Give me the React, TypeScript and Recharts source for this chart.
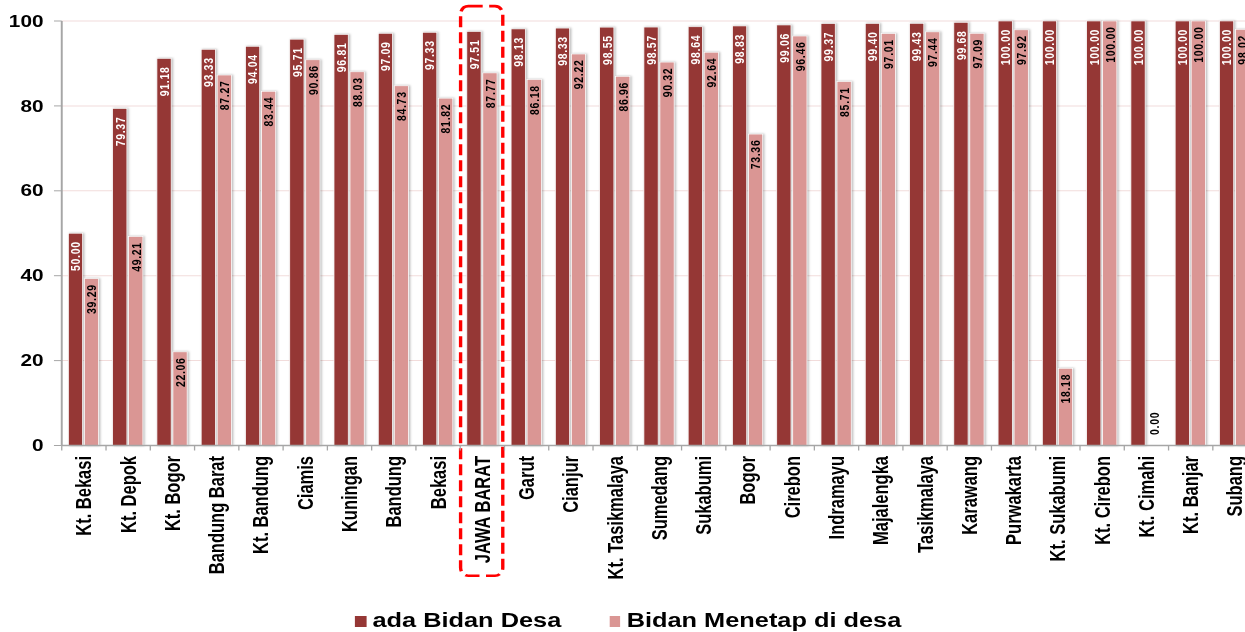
import React from 'react';
import { BarChart, Bar, XAxis, YAxis, CartesianGrid, Legend, LabelList, ReferenceArea } from 'recharts';

// kabupaten / kota, urut seperti di gambar
const kabupaten = [
  'Kt. Bekasi', 'Kt. Depok', 'Kt. Bogor', 'Bandung Barat', 'Kt. Bandung', 'Ciamis', 'Kuningan',
  'Bandung', 'Bekasi', 'JAWA BARAT', 'Garut', 'Cianjur', 'Kt. Tasikmalaya', 'Sumedang', 'Sukabumi',
  'Bogor', 'Cirebon', 'Indramayu', 'Majalengka', 'Tasikmalaya', 'Karawang', 'Purwakarta',
  'Kt. Sukabumi', 'Kt. Cirebon', 'Kt. Cimahi', 'Kt. Banjar', 'Subang',
];
const adaBidanDesa = [
  50.0, 79.37, 91.18, 93.33, 94.04, 95.71, 96.81, 97.09, 97.33, 97.51, 98.13, 98.33, 98.55, 98.57,
  98.64, 98.83, 99.06, 99.37, 99.4, 99.43, 99.68, 100, 100, 100, 100, 100, 100,
];
const bidanMenetap = [
  39.29, 49.21, 22.06, 87.27, 83.44, 90.86, 88.03, 84.73, 81.82, 87.77, 86.18, 92.22, 86.96, 90.32,
  92.64, 73.36, 96.46, 85.71, 97.01, 97.44, 97.09, 97.92, 18.18, 100, 0, 100, 98.02,
];
const yTicks = [0, 20, 40, 60, 80, 100];
const highlight = 'JAWA BARAT';

const data = kabupaten.map((name, i) => ({ name, ada: adaBidanDesa[i], menetap: bidanMenetap[i] }));

const DARK = '#953735';
const LIGHT = '#DA9694';
const AXIS = '#A6A6A6';
const FONT = 'Arial, "Liberation Sans", Helvetica, sans-serif';
const BAND = 34.05; // lebar satu kategori (sebelum scaleX)

const BarShape = (props: any) => {
  const { x, y, width, height, fill } = props;
  if (!height || height <= 0) return null;
  return (
    <rect
      x={x} y={y} width={width} height={height} fill={fill}
      stroke="#fff" strokeWidth={0.6}
      style={{ filter: 'drop-shadow(1.2px 0px 1px rgba(0,0,0,0.28))' }}
    />
  );
};

const makeLabel = (color: string, gap: number) => (props: any) => {
  const cx = Number(props.x) + Number(props.width) / 2;
  const h = Number(props.height);
  const top = Number(props.y);
  const outside = h < 30;
  const ty = outside ? top - 10.5 : top + gap;
  return (
    <text
      x={cx} y={ty} dy="0.35em"
      transform={`rotate(-90, ${cx}, ${ty})`}
      textAnchor={outside ? 'start' : 'end'}
      fill={outside ? '#000' : color}
      fontSize={10.5} fontWeight="bold" letterSpacing={0.7} fontFamily={FONT}
    >
      {Number(props.value).toFixed(2)}
    </text>
  );
};

const CatTick = (props: any) => {
  const { x, y, payload } = props;
  const ly = y + 10.5;
  return (
    <g>
      <line x1={x - BAND / 2} x2={x - BAND / 2} y1={y} y2={y + 5} stroke={AXIS} strokeWidth={1} />
      <text
        x={x} y={ly} dy="0.35em"
        transform={`rotate(-90, ${x}, ${ly})`}
        textAnchor="end" fill="#000"
        fontSize={16.5} fontWeight="bold" fontFamily={FONT}
      >
        {payload.value}
      </text>
    </g>
  );
};

const renderLegend = () => (
  <div style={{ display: 'flex', alignItems: 'baseline', fontFamily: FONT, fontSize: 19.5, fontWeight: 'bold', lineHeight: '22px', color: '#000', whiteSpace: 'nowrap' }}>
    <span style={{ display: 'inline-block', width: 8.5, height: 11, background: DARK, marginRight: 5 }} />
    <span style={{ marginRight: 36.8 }}>ada Bidan Desa</span>
    <span style={{ display: 'inline-block', width: 8.5, height: 11, background: LIGHT, marginRight: 5 }} />
    <span>Bidan Menetap di desa</span>
  </div>
);

const App: React.FC = () => {
  return (
    <div style={{ position: 'fixed', left: 0, top: 0, width: 1245, height: 632, overflow: 'hidden', background: '#fff' }}>
      {/* gambar asli melebar horizontal, jadi seluruh chart ditarik 1.3x */}
      <div style={{ width: 1000, height: 632, transform: 'scaleX(1.3)', transformOrigin: '0 0' }}>
        <BarChart
          width={1000} height={632} data={data}
          margin={{ top: 21, right: 33, left: 0, bottom: 0 }}
          barCategoryGap="14.9%" barGap={1.3}
        >
          <CartesianGrid vertical={false} stroke="#F2DCDB" strokeWidth={1} />
          <XAxis
            dataKey="name" interval={0} height={186.5}
            tickLine={false} tickSize={0} tickMargin={0}
            axisLine={{ stroke: AXIS, strokeWidth: 1.5 }}
            tick={(p: any) => <CatTick {...p} />}
          />
          <YAxis
            width={47.5} domain={[0, 100]} ticks={yTicks} interval={0}
            tickSize={6} tickMargin={8}
            axisLine={{ stroke: AXIS, strokeWidth: 1.5 }}
            tickLine={{ stroke: AXIS }}
            tick={{ fontSize: 16, fontWeight: 'bold', fill: '#000', fontFamily: FONT }}
          />
          <ReferenceArea
            x1={highlight} x2={highlight} y1={-30.7} y2={103.5} ifOverflow="visible"
            shape={(p: any) => (
              <rect
                x={p.x + 0.3} y={p.y} width={p.width - 1.6} height={p.height}
                rx={6} ry={8} fill="none" stroke="#FF0000" strokeWidth={2.6} strokeDasharray="11 5"
              />
            )}
          />
          <Bar dataKey="ada" name="ada Bidan Desa" fill={DARK} shape={BarShape} isAnimationActive={false}>
            <LabelList dataKey="ada" content={makeLabel('#fff', 8)} />
          </Bar>
          <Bar dataKey="menetap" name="Bidan Menetap di desa" fill={LIGHT} shape={BarShape} isAnimationActive={false}>
            <LabelList dataKey="menetap" content={makeLabel('#000', 5.5)} />
          </Bar>
          <Legend
            verticalAlign="middle" align="center"
            wrapperStyle={{ top: 609, left: 273, width: 'auto' }}
            content={renderLegend}
          />
        </BarChart>
      </div>
    </div>
  );
};

export default App;
